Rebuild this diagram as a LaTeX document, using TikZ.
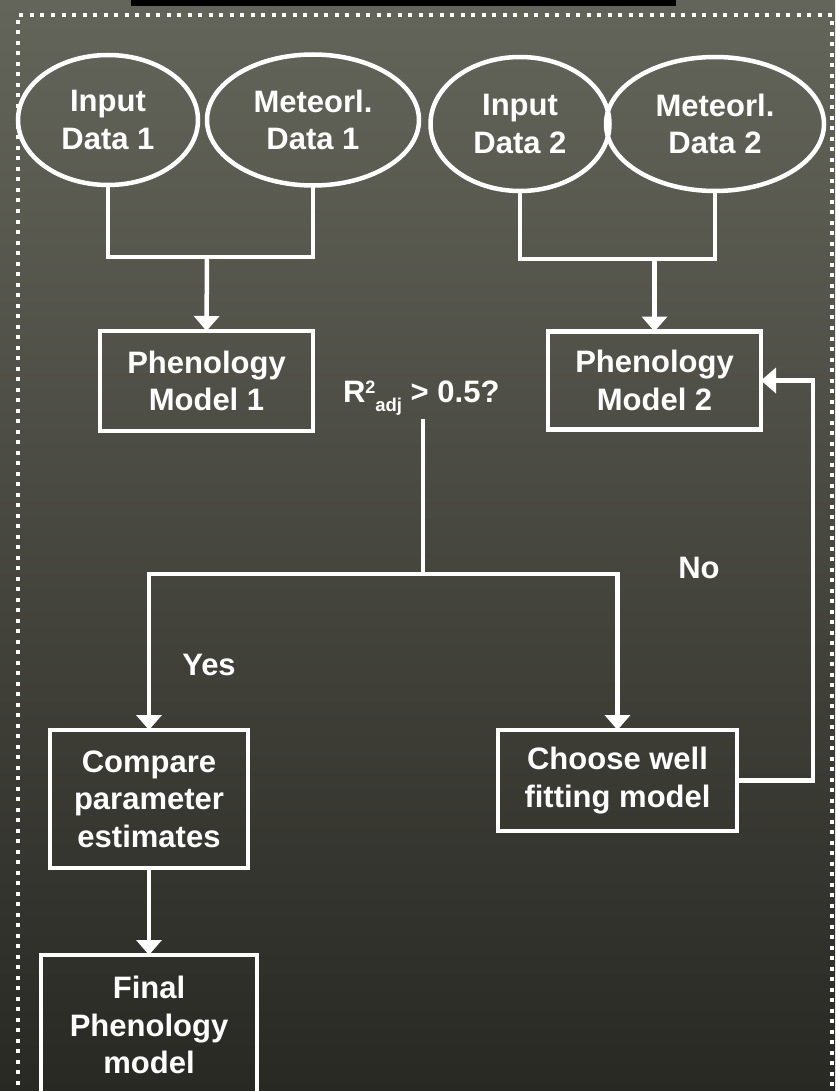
\documentclass[tikz,border=0pt]{standalone}
\usepackage{fontspec}
\setmainfont{Liberation Sans}
\usetikzlibrary{arrows.meta,shapes.geometric}
\definecolor{bgtop}{RGB}{100,101,90}
\definecolor{bgmid}{RGB}{66,66,58}
\definecolor{bgbot}{RGB}{41,41,36}
\begin{document}
\begin{tikzpicture}[x=1pt,y=-1pt,
  every node/.style={text=white,font=\fontsize{31}{37.5}\selectfont\bfseries,align=center,inner sep=0pt,outer sep=0pt},
  wl/.style={draw=white,line width=4.5pt},
  oval/.style={wl,ellipse},
  box/.style={wl,rectangle},
  conn/.style={draw=white,line width=4.5pt},
  tip/.tip={Triangle[width=25pt,length=15pt]},
  arr/.style={conn,-tip}
]
\useasboundingbox (0,0) rectangle (835,1091);
\shade[top color=bgtop, middle color=bgmid, bottom color=bgbot] (0,0) rectangle (835,1091);
\fill[black] (131,0) rectangle (676,6);
\draw[white, line width=3.5pt, dash pattern=on 4pt off 6.5pt] (18,1095) -- (18,15) -- (832,15) -- (832,1095);

% input ellipses
\node[oval, minimum width=180pt, minimum height=130pt] (E1) at (108,120) {Input\\Data 1};
\node[oval, minimum width=212pt, minimum height=131pt] (E2) at (313,120) {Meteorl.\\Data 1};
\node[oval, minimum width=179pt, minimum height=134pt] (E3) at (520,124) {Input\\Data 2};
\node[oval, minimum width=218pt, minimum height=134pt] (E4) at (715,124) {Meteorl.\\Data 2};

% models
\node[box, minimum width=213pt, minimum height=100pt] (P1) at (206.5,381) {Phenology\\Model 1};
\node[box, minimum width=213pt, minimum height=98pt] (P2) at (654.5,380.5) {Phenology\\Model 2};

% question
\node[anchor=base west] (R) at (343,402) {R\raisebox{9pt}{\fontsize{18}{18}\selectfont 2}\raisebox{-9pt}{\fontsize{18.5}{18}\selectfont adj} > 0.5?};

% lower boxes
\node[box, minimum width=198pt, minimum height=138pt] (C) at (149,799) {Compare\\parameter\\estimates};
\node[box, minimum width=239pt, minimum height=101pt] (W) at (617.5,780.5) {Choose well\\fitting model};
\node[box, minimum width=216pt, minimum height=140pt] (F) at (149,1025) {Final\\Phenology\\model};

% labels
\node[anchor=base] (yes) at (209,675) {Yes};
\node[anchor=base] (no) at (699,578) {No};

% connectors
\coordinate (j1) at (207,257);
\coordinate (j2) at (654.5,259);
\coordinate (j3) at (423,574);
\coordinate (fb) at (813,600);

\draw[conn] (E1.south) |- (j1) -| (E2.south);
\draw[arr] (j1) -- (P1.north);
\draw[conn] (E3.south) |- (j2) -| (E4.south);
\draw[arr] (j2) -- (P2.north);

\draw[conn] ([yshift=-4pt]j3 |- R.south) -- (j3);
\draw[conn, tip-tip] (C.north) |- (j3) -| (W.north);
\draw[arr] (C.south) -- (F.north);
\draw[arr] (W.east) -| (fb) |- (P2.east);
\end{tikzpicture}
\end{document}
